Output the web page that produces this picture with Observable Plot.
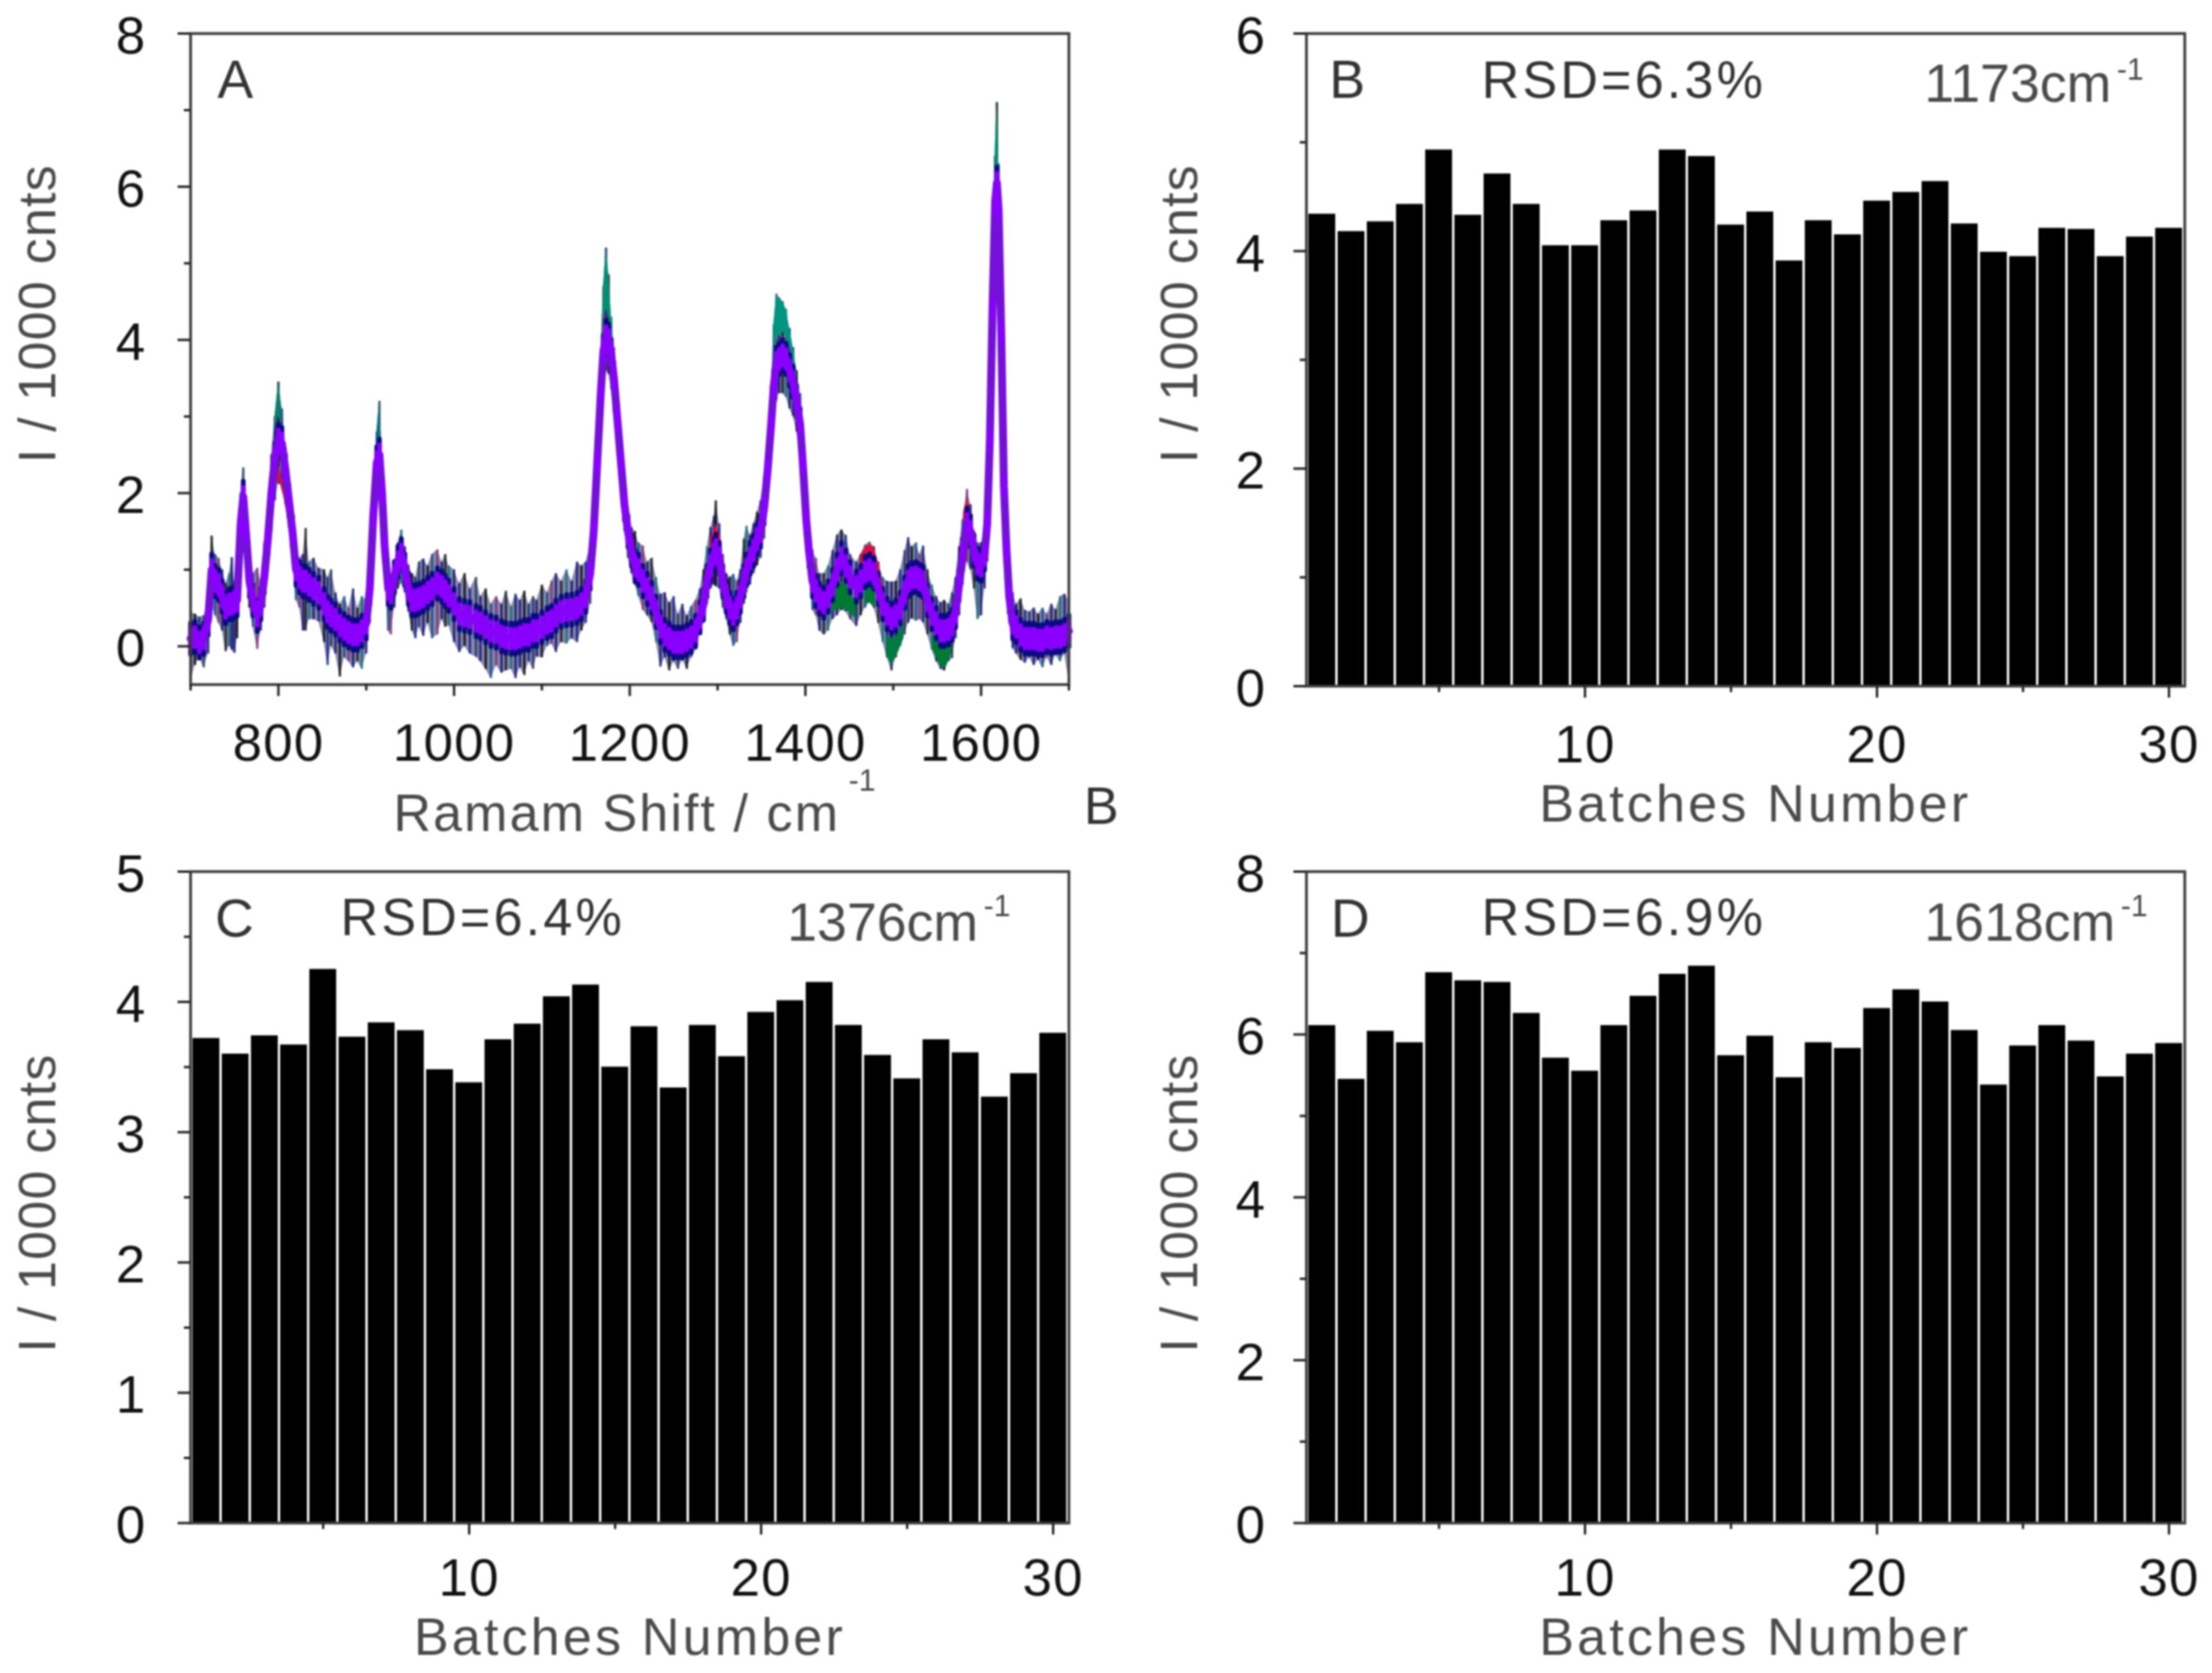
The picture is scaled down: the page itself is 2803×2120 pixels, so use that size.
<!DOCTYPE html>
<html><head><meta charset="utf-8">
<script src="https://cdn.jsdelivr.net/npm/d3@7"></script>
<script src="https://cdn.jsdelivr.net/npm/@observablehq/plot@0.6"></script>
<style>
html,body{margin:0;padding:0;background:#fff;}
#page{position:relative;width:2803px;height:2120px;overflow:hidden;}
#page svg{position:absolute;background:transparent;overflow:visible;}
.ls1 text{letter-spacing:1.5px}
.ls3 text{letter-spacing:2.6px}
.ls4 text{letter-spacing:4px}
</style></head><body><div id="page"></div>
<script>
const shift=[700,705,710,715,720,724,728,732,736,740,744,747,750,753,757,760,763,767,771,776,780,784,788,792,796,800,804,808,812,816,820,824,828,831,835,840,846,852,856,860,865,870,875,880,885,890,895,900,904,908,912,915,918,921,925,928,932,936,940,944,948,952,956,960,965,970,975,981,986,990,994,1000,1006,1012,1018,1025,1030,1036,1042,1048,1054,1059,1065,1070,1075,1080,1085,1090,1094,1100,1106,1111,1116,1122,1128,1134,1140,1145,1150,1155,1159,1163,1167,1170,1173,1176,1179,1182,1186,1190,1194,1198,1202,1206,1210,1215,1220,1225,1230,1235,1240,1245,1250,1255,1260,1265,1270,1275,1280,1284,1288,1292,1296,1298,1302,1306,1310,1314,1318,1322,1326,1330,1333,1337,1341,1345,1349,1353,1357,1361,1364,1367,1370,1374,1378,1382,1386,1390,1394,1397,1401,1404,1408,1412,1416,1421,1426,1431,1436,1441,1446,1451,1458,1463,1468,1473,1478,1483,1488,1493,1498,1503,1508,1513,1517,1521,1526,1530,1534,1539,1544,1549,1554,1558,1563,1567,1571,1575,1579,1584,1588,1592,1596,1600,1604,1607,1610,1613,1616,1618,1620,1623,1626,1629,1632,1636,1640,1645,1650,1655,1660,1665,1670,1675,1680,1685,1690,1695,1700];
const lower=[-.45,-.25,-.15,-.28,-.1,.55,.4,.3,.2,-.07,0,-.05,-.09,.1,.9,1.45,1,.5,.25,-.04,.2,.5,1,1.5,1.9,2.12,2.1,1.85,1.55,1.1,.6,.5,.2,.2,.35,.35,.32,.05,-.25,0,-.1,-.4,-.15,-.2,-.28,-.2,-.3,-.1,.3,1.2,1.9,2.1,1.5,.9,.2,.15,.5,.75,.82,.7,.45,.2,.1,.25,.13,.3,.1,.15,.35,.25,.27,.05,-.08,0,-.1,-.14,-.2,-.3,-.42,-.25,-.35,-.32,-.3,-.42,-.28,-.38,-.2,-.3,-.14,-.15,0,.03,-.08,.05,.03,.1,.05,.2,.3,.55,1.05,1.9,2.9,3.4,3.6,3.55,3.35,3.05,2.5,2,1.5,1.15,.95,.8,.65,.47,.4,.31,.05,-.27,-.15,-.32,-.2,-.3,-.18,-.3,-.15,-.05,.15,.3,.55,.75,.8,.78,.75,.5,.35,.15,0,.05,.3,.55,.7,.8,.95,1.05,1.15,1.4,1.9,2.5,3,3.2,3.3,3.3,3.25,3.1,3,2.8,2.55,2.1,1.35,1,.47,.4,.2,.15,.2,.35,.4,.47,.45,.35,.26,.4,.5,.57,.5,.3,.05,-.15,-.32,-.15,0,.15,.3,.36,.33,.35,.31,.15,-.05,-.2,-.3,-.32,-.2,-.16,.1,.4,.8,1.1,1,.75,.35,.4,.75,1.1,2.2,3.9,5.4,5.7,5.2,3.7,1.8,1,.3,-.03,-.1,-.18,-.22,-.15,-.25,-.18,-.28,-.15,-.25,-.12,-.2,-.1,-.45];
const center=[.1,.12,.05,.1,.35,1,.85,.8,.65,.5,.55,.55,.58,.6,1.6,1.95,1.5,.85,.6,.4,.55,.9,1.4,2,2.45,2.7,2.65,2.3,1.9,1.5,1,.9,.85,.85,.8,.75,.7,.55,.45,.4,.35,.27,.22,.18,.15,.15,.2,.3,.75,1.7,2.4,2.5,2,1.3,.75,.7,.9,1.1,1.2,1,.75,.6,.6,.62,.65,.7,.75,.82,.78,.72,.66,.55,.42,.4,.38,.33,.3,.25,.2,.18,.13,.11,.1,.1,.12,.15,.15,.2,.2,.25,.3,.33,.4,.45,.47,.48,.5,.55,.65,.95,1.5,2.4,3.3,3.85,4.05,4,3.8,3.5,2.95,2.4,1.85,1.5,1.25,1.05,1,.85,.75,.63,.45,.25,.15,.1,.05,.05,.05,.08,.12,.2,.38,.55,.85,1.05,1.2,1.26,1.15,.85,.65,.5,.42,.5,.65,.85,1,1.15,1.25,1.4,1.5,1.8,2.3,2.9,3.4,3.7,3.75,3.8,3.75,3.6,3.45,3.2,2.9,2.4,1.65,1.25,.85,.72,.62,.57,.65,.8,1,1.15,1.05,.9,.78,.85,.97,1,.95,.75,.55,.42,.36,.4,.5,.7,.85,.89,.9,.87,.84,.6,.42,.3,.2,.2,.22,.28,.45,.8,1.2,1.6,1.5,1.25,1.08,1.05,1.2,1.6,2.7,4.4,5.8,6.05,5.7,4.1,2.1,1.25,.65,.3,.25,.15,.1,.1,.1,.08,.08,.12,.1,.12,.12,.15,.2];
const upper=[.45,.42,.38,.4,.55,1.44,1.2,1.15,1,.82,.95,1.16,.85,.9,2,2.33,1.8,1.1,.95,1.02,.85,1.35,1.8,2.5,3,3.45,3.1,2.6,2.1,1.6,1.2,1.15,1.2,1.54,1.1,1.15,1.02,1,.9,1,.7,.55,.65,.5,.75,.5,.65,.6,1,2,2.8,3.2,2.5,1.6,.95,.9,1.1,1.35,1.52,1.3,1.06,.95,.9,1.1,1.14,1.05,1.2,1.26,1.1,1.2,1.05,1,.82,.95,.75,.9,.65,.75,.55,.65,.55,.72,.52,.68,.6,.72,.55,.65,.6,.8,.7,.85,.95,.85,1,.85,1.1,1.05,1.1,1.3,1.75,2.8,3.8,4.7,5.2,4.85,4.3,3.9,3.25,2.6,2.1,1.65,1.55,1.5,1.35,1.31,1.1,1.15,.9,.68,.7,.57,.65,.42,.55,.4,.52,.6,.75,1,1.3,1.55,1.7,1.9,1.6,1.2,.95,.9,.94,.85,1,1.4,1.57,1.45,1.6,1.75,1.9,2.2,2.7,3.4,4.2,4.6,4.55,4.5,4.4,4.15,3.9,3.6,3.3,2.7,1.9,1.55,1.26,1.15,.95,.95,1.05,1.25,1.45,1.52,1.45,1.2,1.1,1.2,1.32,1.36,1.3,1.1,.9,.85,.84,.85,1,1.25,1.42,1.3,1.35,1.2,1.31,1,.8,.65,.57,.6,.55,.7,.9,1.3,1.65,2.05,1.85,1.5,1.35,1.35,1.45,1.9,3,4.8,6.4,7.1,6.3,4.4,2.4,1.5,.95,.7,.55,.62,.47,.45,.5,.42,.5,.42,.55,.48,.65,.68,.6];

const accentGroup=["t1","t1","t1","t1","t1","t1","t2","t2","t2","t2","t2","t2","t2","t2","t3","t3","t3","t4","t4","t4","t5","t5","t5","r1","r1","r1","r2","r2","r2","r2","r2","r3","r3","r3","g1","g1","g1","g1","g2","g2","g2","g3","g3","g3","g3","g4","g4","g4","g4","b1","b1","b1","b1","b1"];
const accentX=[1167,1170,1173,1176,1179,1182,1364,1367,1370,1374,1378,1382,1386,1390,1616,1618,1620,796,800,804,912,915,918,1292,1298,1304,1463,1470,1478,1484,1490,1580,1585,1590,1430,1441,1450,1458,1468,1473,1480,1492,1498,1505,1512,1545,1553,1560,1566,798,802,806,810,814];
const accentLow=[3.6,4.3,4.4,4.3,4.05,3.7,3.8,4,4.05,4.1,4.05,3.9,3.7,3.4,6.1,6.2,6,2.8,3,2.9,2.6,2.7,2.3,1.2,1.3,1.2,.95,1.05,1,.8,.55,1.5,1.7,1.4,.45,.5,.45,.35,.55,.57,.5,-.1,-.25,-.1,.1,-.05,-.25,-.28,-.1,2.15,2.12,1.95,1.7,1.4];
const accentHigh=[3.8,4.7,5.2,4.85,4.3,3.9,4.2,4.6,4.55,4.5,4.4,4.15,3.9,3.6,6.5,7.1,6.4,3,3.45,3.1,2.8,3.2,2.5,1.4,1.6,1.4,1.2,1.32,1.3,1.05,.7,1.75,1.95,1.6,.7,.85,.75,.55,.75,.8,.7,.15,.1,.15,.3,.15,.05,.05,.1,2.4,2.3,2.1,1.85,1.55];
const accentColor={t1:"#008f72",t2:"#00957f",t3:"#008f72",t4:"#0a7f6a",t5:"#0a6f80",r1:"#e0103c",r2:"#d81040",r3:"#d8103c",g1:"#007a33",g2:"#007a33",g3:"#007a40",g4:"#007a33",b1:"#c01850"};
const spikeColors=["#0a0a70","#000000","#0a1a90","#1a3050","#0a0a70","#000000","#0a4a90","#80286a","#0a0a70","#101010","#0a6a70","#0a0a70"];

const batches=[1,2,3,4,5,6,7,8,9,10,11,12,13,14,15,16,17,18,19,20,21,22,23,24,25,26,27,28,29,30];
const valuesB=[4.34,4.18,4.27,4.43,4.93,4.33,4.71,4.43,4.05,4.05,4.28,4.37,4.93,4.87,4.24,4.36,3.91,4.28,4.15,4.46,4.54,4.64,4.25,3.99,3.95,4.21,4.20,3.95,4.13,4.21];
const valuesC=[3.72,3.60,3.74,3.67,4.25,3.73,3.84,3.78,3.48,3.38,3.71,3.83,4.04,4.13,3.50,3.81,3.34,3.82,3.58,3.92,4.01,4.15,3.82,3.59,3.41,3.71,3.61,3.27,3.45,3.76];
const valuesD=[6.11,5.45,6.04,5.90,6.76,6.66,6.64,6.26,5.71,5.55,6.11,6.47,6.74,6.84,5.74,5.98,5.47,5.90,5.83,6.32,6.55,6.40,6.05,5.38,5.86,6.11,5.92,5.48,5.76,5.89];

const yTitle="I / 1000 cnts", barTitle="Batches Number";
const FONT="'Liberation Sans',Arial,sans-serif";
const noText=()=>"";
const barShape={draw(ctx,l){ctx.moveTo(0,0);ctx.lineTo(0,-l);}};

const note=(t,dx,dy,o={})=>Plot.text([t],{text:d=>d,frameAnchor:"top-left",dx,dy,textAnchor:"start",lineAnchor:"middle",fill:"#333",fontSize:68,...o});
const yLab=(dx,dy)=>note(yTitle,dx,dy,{rotate:-90,textAnchor:"middle",fill:"#4a4a4a",fontSize:66,className:"ls1"});

function axes(xMajor,xMinor,yMajor,yMinor,pad,xPad){
  const S={strokeWidth:3,stroke:"#222"}, T={fill:"#111",fontSize:67,label:null,tickSize:0,className:"ls1",tickFormat:d=>String(d)};
  return [
    Plot.frame({stroke:"#3c3c3c",strokeWidth:3.5}),
    Plot.axisY({...S,ticks:yMajor,tickSize:16,label:null,tickFormat:noText}),
    Plot.axisY({...S,ticks:yMinor,tickSize:8,label:null,tickFormat:noText}),
    Plot.axisY({...T,ticks:yMajor,tickPadding:pad+16,dy:4}),
    Plot.axisX({...S,ticks:xMajor,tickSize:15,label:null,tickFormat:noText}),
    Plot.axisX({...S,ticks:xMinor,tickSize:8,label:null,tickFormat:noText}),
    Plot.axisX({...T,ticks:xMajor,tickPadding:xPad+15})
  ];
}
function place(svg,left,top){svg.style.left=left+"px";svg.style.top=top+"px";document.getElementById("page").appendChild(svg);}
const base={style:{fontFamily:FONT,filter:"blur(0.8px)",background:"transparent"}};

// Panel A
const spec=shift.map((x,i)=>({x,lo:lower[i],c:center[i],up:upper[i],spike:spikeColors[i%spikeColors.length]}));
const acc=accentX.map((x,i)=>({x,lo:accentLow[i],hi:accentHigh[i],g:accentGroup[i],color:accentColor[accentGroup[i]]}));
place(Plot.plot({...base,width:1420,height:1060,marginLeft:241,marginRight:66,marginTop:42,marginBottom:193,
  x:{domain:[700,1700]},y:{domain:[-.5,8]},
  marks:[
    Plot.areaY(spec,{x:"x",y1:"lo",y2:"up",fill:"#14145a",fillOpacity:.5}),
    Plot.ruleX(spec,{x:"x",y1:"lo",y2:"up",stroke:"spike",strokeWidth:3,strokeOpacity:.8}),
    Plot.areaY(acc,{x:"x",y1:"lo",y2:"hi",z:"g",fill:"color"}),
    Plot.vector(spec,{x:"x",y:"c",length:40,rotate:0,anchor:"middle",shape:barShape,stroke:"#0a0a80",strokeWidth:6}),
    Plot.lineY(spec,{x:"x",y:"c",stroke:"#7410d8",strokeWidth:10,strokeLinejoin:"round"}),
    Plot.vector(spec,{x:"x",y:"c",length:24,rotate:0,anchor:"middle",shape:barShape,stroke:"#8a00ff",strokeWidth:6}),
    ...axes([800,1000,1200,1400,1600],[700,900,1100,1300,1500,1700],[0,2,4,6,8],[1,3,5,7],40,34),
    note("A",34,60),
    yLab(-193,355),
    note("Ramam Shift / cm",257,989,{fill:"#4a4a4a",fontSize:66,className:"ls3"}),
    note("-1",834,947,{fontSize:38,fill:"#4a4a4a"}),
    note("B",1132,980,{fontSize:66})
  ]}),0,0);

function barPanel(vals,left,top,o){
  place(Plot.plot({...base,width:o.w,height:1060,marginLeft:o.ml,marginRight:o.w-o.ml-1113,marginTop:o.mt,marginBottom:1060-o.mt-o.fh,
    x:{domain:[0.46,30.54]},y:{domain:[0,o.ymax]},
    marks:[
      Plot.rectY(batches,{x1:b=>b-.5,x2:b=>b+.5,y1:0,y2:(b,i)=>vals[i],fill:"#000",insetLeft:1.5,insetRight:1.5}),
      ...axes([10,20,30],[5,15,25],o.yMajor,o.yMinor,o.ml===255?35:40,o.xPad),
      note(o.tag,o.tagDx,o.tagDy),
      note(o.rsd,o.rsdDx,o.rsdDy,{fontSize:66,className:"ls4"}),
      note(o.peak,o.peakDx,o.peakDy,{fontSize:68,fill:"#4a4a4a"}),
      note("-1",o.supDx,o.supDy,{fontSize:38,fill:"#4a4a4a"}),
      yLab(o.ylDx,o.ylDy),
      note(barTitle,o.xlDx,o.xlDy,{fill:"#4a4a4a",fontSize:66,className:"ls4"})
    ]}),left,top);
}
barPanel(valuesB,1400,0,{w:1403,ml:255,mt:42,fh:827,xPad:34,ymax:6,yMajor:[0,2,4,6],yMinor:[1,3,5],tag:"B",tagDx:29,tagDy:60,rsd:"RSD=6.3%",rsdDx:222,rsdDy:60,peak:"1173cm",peakDx:783,peakDy:65,supDx:1027,supDy:46,ylDx:-160,ylDy:355,xlDx:295,xlDy:977});
barPanel(valuesC,0,1060,{w:1400,ml:241,mt:44,fh:825.5,xPad:29,ymax:5,yMajor:[0,1,2,3,4,5],yMinor:[.5,1.5,2.5,3.5,4.5],tag:"C",tagDx:31,tagDy:61,rsd:"RSD=6.4%",rsdDx:190,rsdDy:59,peak:"1376cm",peakDx:756,peakDy:66,supDx:1005,supDy:44,ylDx:-193,ylDy:420,xlDx:283,xlDy:971});
barPanel(valuesD,1400,1060,{w:1403,ml:255,mt:44,fh:825.5,xPad:29,ymax:8,yMajor:[0,2,4,6,8],yMinor:[1,3,5,7],tag:"D",tagDx:31,tagDy:61,rsd:"RSD=6.9%",rsdDx:222,rsdDy:59,peak:"1618cm",peakDx:783,peakDy:66,supDx:1032,supDy:44,ylDx:-160,ylDy:420,xlDx:295,xlDy:971});
</script></body></html>
